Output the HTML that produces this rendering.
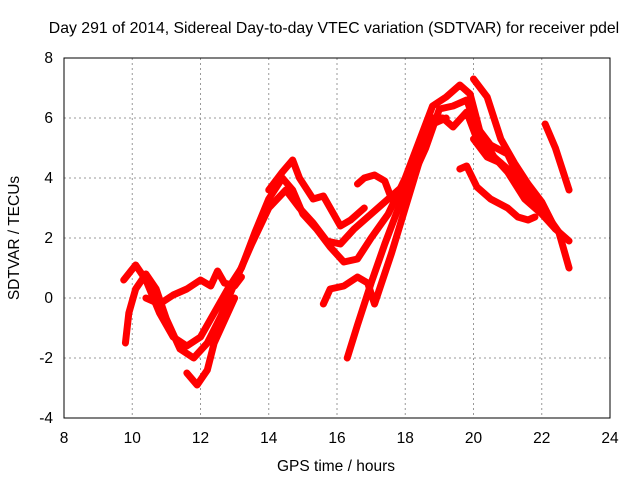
<!DOCTYPE html>
<html><head><meta charset="utf-8"><style>
body{margin:0;background:#fff;}
svg text{font-family:"Liberation Sans",sans-serif;font-size:15.5px;fill:#000;}
</style></head><body>
<svg id="chart" width="640" height="480" viewBox="0 0 640 480" xmlns="http://www.w3.org/2000/svg">
<rect width="640" height="480" fill="#fff"/>
<text x="334" y="33" text-anchor="middle" style="font-size:15.8px">Day 291 of 2014, Sidereal Day-to-day VTEC variation (SDTVAR) for receiver pdel</text>
<text x="336" y="471" text-anchor="middle">GPS time / hours</text>
<text transform="translate(19,238) rotate(-90)" text-anchor="middle">SDTVAR / TECUs</text>
<g id="grid"></g><g id="ticks"></g><g id="series"></g>
<rect x="64" y="58" width="546" height="360" fill="none" stroke="#000" stroke-width="1"/>
</svg>
<script>
const xTicks=[8,10,12,14,16,18,20,22,24];
const yTicks=[-4,-2,0,2,4,6,8];
const trackA=[[9.75,0.6],[10.1,1.1],[10.4,0.6],[10.8,-0.5],[11.2,-1.3],[11.6,-1.6],[12.0,-1.3],[12.4,-0.5],[12.8,0.3],[13.2,1.0],[13.6,2.2],[14.0,3.3],[14.4,4.0],[14.7,3.6],[15.0,2.8],[15.4,2.3],[15.8,1.7],[16.2,1.2],[16.6,1.3],[17.0,2.0],[17.5,2.8],[18.0,4.0],[18.5,5.5],[18.8,6.4],[19.2,6.7],[19.6,7.1],[19.9,6.8],[20.2,5.5],[20.6,4.7],[21.0,4.2],[21.5,3.3],[22.0,2.8],[22.4,2.3],[22.8,1.9]];
const trackB=[[9.8,-1.5],[9.9,-0.5],[10.1,0.3],[10.4,0.8],[10.7,0.3],[11.0,-0.7],[11.4,-1.7],[11.8,-2.0],[12.2,-1.5],[12.6,-0.6],[13.0,0.5],[13.5,1.8],[14.0,3.0],[14.5,3.6],[14.9,3.0],[15.3,2.5],[15.7,1.9],[16.1,1.8],[16.5,2.3],[17.0,2.8],[17.5,3.3],[18.0,3.8],[18.4,5.0],[18.8,6.0],[19.1,6.0],[19.4,5.7],[19.8,6.2],[20.1,5.3],[20.5,4.8],[21.0,4.3],[21.5,3.5],[22.0,3.0],[22.5,2.2],[22.8,1.0]];
const trackC=[[11.6,-2.5],[11.9,-2.9],[12.2,-2.4],[12.4,-1.5],[12.6,-1.0],[13.0,0.0]];
const trackD=[[10.4,0.0],[10.8,-0.2],[11.2,0.1],[11.6,0.3],[12.0,0.6],[12.3,0.4],[12.5,0.9],[12.7,0.5],[13.0,0.4],[13.2,0.7]];
const trackE=[[14.0,3.6],[14.4,4.2],[14.7,4.6],[14.9,4.0],[15.3,3.3],[15.6,3.4],[15.9,2.8],[16.1,2.4],[16.4,2.6],[16.8,3.0]];
const trackF=[[16.3,-2.0],[16.6,-0.9],[17.0,0.5],[17.4,1.8],[17.8,3.0],[18.2,4.0],[18.6,5.0],[19.0,6.3],[19.4,6.4],[19.8,6.6],[20.1,5.7],[20.5,5.1],[21.0,4.8],[21.4,3.8],[21.8,3.3]];
const trackG=[[15.6,-0.2],[15.8,0.3],[16.2,0.4],[16.6,0.7],[16.9,0.5],[17.1,-0.2],[17.6,1.5],[18.0,3.0],[18.4,4.5],[18.8,5.8],[19.2,6.0]];
const trackH=[[16.6,3.8],[16.8,4.0],[17.1,4.1],[17.4,3.9],[17.6,3.3]];
const trackI=[[20.0,7.3],[20.4,6.7],[20.8,5.3],[21.2,4.5],[21.6,3.8],[22.0,3.2],[22.4,2.3]];
const trackJ=[[19.6,4.3],[19.8,4.4],[20.1,3.7],[20.5,3.3],[21.0,3.0],[21.3,2.7],[21.6,2.6],[21.8,2.7]];
const trackK=[[22.1,5.8],[22.4,5.0],[22.6,4.3],[22.8,3.6]];
const trackL=[[20.0,5.3],[20.4,4.7],[20.8,4.5]];
const tracks=[trackA,trackB,trackC,trackD,trackE,trackF,trackG,trackH,trackI,trackJ,trackK,trackL];
const NS="http://www.w3.org/2000/svg";
const X=v=>64+(v-8)*546/16, Y=v=>418-(v+4)*30;
const grid=document.getElementById('grid'),ticks=document.getElementById('ticks'),series=document.getElementById('series');
xTicks.forEach(t=>{
  if(t>8&&t<24){const l=document.createElementNS(NS,'line');
  
  
  l.setAttribute('x1',X(t));l.setAttribute('x2',X(t));l.setAttribute('y1',58);l.setAttribute('y2',418);
  l.setAttribute('stroke','#999');l.setAttribute('stroke-dasharray','2,3');grid.appendChild(l);}
  const tx=document.createElementNS(NS,'text');
  
  
  tx.setAttribute('x',X(t));tx.setAttribute('y',443);tx.setAttribute('text-anchor','middle');tx.textContent=t;ticks.appendChild(tx);
});
yTicks.forEach(t=>{
  if(t>-4&&t<8){const l=document.createElementNS(NS,'line');
  
  
  l.setAttribute('x1',64);l.setAttribute('x2',610);l.setAttribute('y1',Y(t));l.setAttribute('y2',Y(t));
  l.setAttribute('stroke','#999');l.setAttribute('stroke-dasharray','2,3');grid.appendChild(l);}
  const tx=document.createElementNS(NS,'text');
  
  
  tx.setAttribute('x',53);tx.setAttribute('y',Y(t)+5);tx.setAttribute('text-anchor','end');tx.textContent=t;ticks.appendChild(tx);
});
tracks.forEach(tr=>{
  const p=document.createElementNS(NS,'polyline');
  
  
  p.setAttribute('points',tr.map(d=>X(d[0])+','+Y(d[1])).join(' '));
  p.setAttribute('fill','none');p.setAttribute('stroke','#f00');p.setAttribute('stroke-width','7');
  p.setAttribute('stroke-linejoin','round');p.setAttribute('stroke-linecap','round');
  series.appendChild(p);
});
</script>
</body></html>
